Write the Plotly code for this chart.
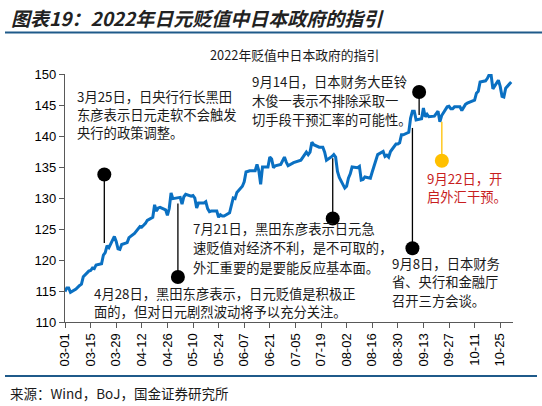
import pandas as pd
import plotly.graph_objects as go

# ---------------- data ----------------
dates = pd.bdate_range("2022-03-01", "2022-10-31")

usdjpy_mar = [114.9, 115.5, 115.5, 114.8, 115.3, 115.7, 115.9, 116.1, 117.3, 118.2, 118.3, 118.7,
              118.6, 119.2, 119.4, 120.8, 121.2, 122.3, 122.0, 123.8, 123.0, 121.8, 121.7]
usdjpy_apr = [122.5, 122.8, 123.6, 123.8, 124.0, 124.3, 125.4, 125.3, 125.6, 125.9, 126.4, 126.9,
              128.9, 127.9, 128.4, 128.5, 128.1, 127.2, 128.3, 130.8, 129.9]
usdjpy_may = [130.1, 130.1, 129.0, 130.2, 130.6, 130.3, 130.4, 130.0, 128.4, 129.2, 129.2, 129.4,
              128.3, 127.8, 127.9, 127.9, 126.9, 127.3, 127.1, 127.1, 127.6, 128.7]
usdjpy_jun = [130.0, 129.9, 130.9, 131.9, 132.6, 134.2, 134.3, 134.4, 134.4, 135.4, 134.4, 132.2,
              135.0, 135.0, 136.6, 136.3, 134.9, 135.2, 135.4, 136.1, 136.6, 135.8]
usdjpy_jul = [135.2, 135.7, 135.8, 135.9, 136.0, 136.1, 137.4, 137.0, 137.4, 139.0, 138.6, 138.2,
              138.2, 138.2, 137.4, 136.1, 136.7, 137.0, 136.6, 134.3, 133.3]
usdjpy_aug = [131.6, 131.9, 133.2, 133.9, 135.0, 134.9, 135.1, 132.9, 133.0, 133.4, 133.2, 134.2,
              135.1, 135.9, 137.0, 137.5, 136.7, 136.9, 136.6, 137.5, 138.7, 138.7, 138.9]
usdjpy_sep = [140.2, 140.2, 140.6, 142.9, 144.0, 144.0, 142.6, 142.8, 144.5, 143.1, 143.5, 143.1,
              143.2, 143.7, 144.0, 142.3, 143.3, 144.7, 144.8, 144.4, 144.4, 144.7]
usdjpy_oct = [144.7, 144.1, 144.6, 145.1, 145.3, 145.7, 145.8, 146.9, 147.2, 148.7, 148.9, 149.3,
              149.9, 149.9, 147.6, 149.0, 148.0, 146.4, 146.3, 147.7, 148.7]

usdjpy = (usdjpy_mar + usdjpy_apr + usdjpy_may + usdjpy_jun +
          usdjpy_jul + usdjpy_aug + usdjpy_sep + usdjpy_oct)
n = min(len(dates), len(usdjpy))

tick_dates = pd.date_range("2022-03-01", "2022-10-25", freq="14D")
tick_labels = [d.strftime("%m-%d") for d in tick_dates]

y_ticks = [110, 115, 120, 125, 130, 135, 140, 145, 150]

event_dates = ["2022-03-22 12:00", "2022-05-01 18:00", "2022-07-25 10:00",
               "2022-09-07 00:00", "2022-09-10 16:00", "2022-09-23 02:00"]
event_dot = [133.8, 117.25, 126.7, 121.9, 147.1, 136.0]
event_line_end = [122.75, 129.1, 136.4, 141.3, 143.4, 142.3]
event_colors = ["#000000", "#000000", "#000000", "#000000", "#000000", "#FFC000"]

note_0325 = ["3月25日，日央行行长黑田", "东彦表示日元走软不会触发", "央行的政策调整。"]
note_0914 = ["9月14日，日本财务大臣铃", "木俊一表示不排除采取一", "切手段干预汇率的可能性。"]
note_0721 = ["7月21日，黑田东彦表示日元急", "速贬值对经济不利，是不可取的，", "外汇重要的是要能反应基本面。"]
note_0428 = ["4月28日，黑田东彦表示，日元贬值是积极正", "面的，但对日元剧烈波动将予以充分关注。"]
note_0908 = ["9月8日，日本财务", "省、央行和金融厅", "召开三方会谈。"]
note_0922 = ["9月22日，开", "启外汇干预。"]

fig_title = "图表19：2022年日元贬值中日本政府的指引"
chart_title = "2022年贬值中日本政府的指引"
source_text = "来源：Wind，BoJ，国金证券研究所"

# ---------------- layout helpers ----------------
FIG_W, FIG_H = 542, 406
L, R, T, B = 65, 29, 74, 84
PW, PH = FIG_W - L - R, FIG_H - T - B


def px2paper(px, py):
    return (px - L) / PW, 1 - (py - T) / PH


CJK = "Noto Sans CJK SC"
TXT = "#1a1a1a"

fig = go.Figure()

fig.add_trace(go.Scatter(x=dates[:n], y=usdjpy[:n], mode="lines",
                         line=dict(color="#0A70C2", width=3), hoverinfo="skip",
                         showlegend=False))

for d, y0, y1, c in zip(event_dates, event_dot, event_line_end, event_colors):
    fig.add_trace(go.Scatter(x=[d, d], y=[y0, y1], mode="lines",
                             line=dict(color=c, width=1.3), showlegend=False,
                             hoverinfo="skip"))
fig.add_trace(go.Scatter(x=event_dates, y=event_dot, mode="markers",
                         marker=dict(color=event_colors, size=14, line=dict(width=0)),
                         showlegend=False, hoverinfo="skip", cliponaxis=False))

annotations = []


def add_block(lines, px, py0, step, color=TXT, size=13.3):
    for i, s in enumerate(lines):
        x, y = px2paper(px, py0 + i * step)
        annotations.append(dict(text=s, x=x, y=y, xref="paper", yref="paper",
                                xanchor="left", yanchor="middle", showarrow=False,
                                font=dict(family=CJK, size=size, color=color)))


add_block(note_0325, 75, 96, 18.4)
add_block(note_0914, 250, 81.5, 18.9)
add_block(note_0721, 190.5, 228.3, 19.5)
add_block(note_0428, 92, 293.3, 18.4)
add_block(note_0908, 389.5, 263.3, 18.5)
add_block(note_0922, 424.5, 178.3, 18.4, color="#C81E1E")

# chart title
x, y = px2paper(294, 55)
annotations.append(dict(text=chart_title, x=x, y=y, xref="paper", yref="paper",
                        xanchor="center", yanchor="middle", showarrow=False,
                        font=dict(family=CJK, size=12.8, color=TXT)))
# figure title
x, y = px2paper(9, 17)
annotations.append(dict(text=fig_title, x=x, y=y, xref="paper", yref="paper",
                        xanchor="left", yanchor="middle", showarrow=False,
                        font=dict(family=CJK, size=19, color="#222222",
                                  weight="bold", style="italic")))
# source
x, y = px2paper(8, 393)
annotations.append(dict(text=source_text, x=x, y=y, xref="paper", yref="paper",
                        xanchor="left", yanchor="middle", showarrow=False,
                        font=dict(family=CJK, size=13.5, color=TXT)))

shapes = []
for py, x0px, x1px in [(32.5, 5, 542), (376, 5, 537)]:
    xa, ya = px2paper(x0px, py)
    xb, _ = px2paper(x1px, py)
    shapes.append(dict(type="line", xref="paper", yref="paper", x0=xa, x1=xb, y0=ya, y1=ya,
                       line=dict(color="#1F5A8A", width=2)))

fig.update_layout(
    width=FIG_W, height=FIG_H,
    margin=dict(l=L, r=R, t=T, b=B),
    paper_bgcolor="white", plot_bgcolor="white",
    annotations=annotations, shapes=shapes,
    font=dict(family="Liberation Sans, Arial", color="#000000"),
)
fig.update_xaxes(type="date", range=["2022-03-01", "2022-11-01"],
                 tickvals=list(tick_dates), ticktext=tick_labels, tickangle=-90,
                 showgrid=False, zeroline=False, showline=True, linecolor="#595959",
                 linewidth=1.3, ticks="outside", ticklen=5, tickcolor="#595959",
                 tickfont=dict(family="Liberation Sans", size=13, color="#000000"))
fig.update_yaxes(range=[110, 150], tickvals=y_ticks,
                 showgrid=False, zeroline=False, showline=True, linecolor="#595959",
                 linewidth=1.3, ticks="outside", ticklen=5, tickcolor="#595959",
                 tickfont=dict(family="Liberation Sans", size=13, color="#000000"))

fig.write_html("out.html")
